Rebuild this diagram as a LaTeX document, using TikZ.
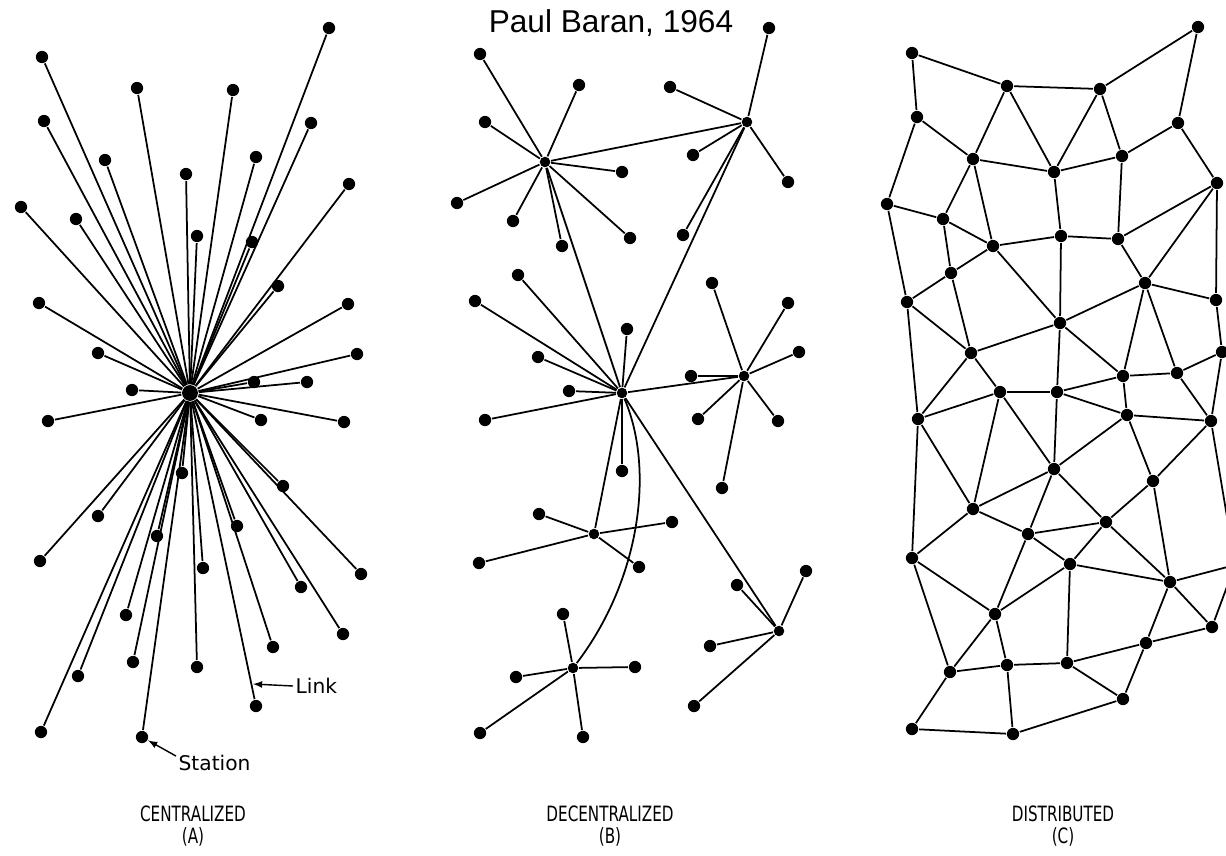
\documentclass[tikz,border=0pt]{standalone}
\usepackage{fontspec}
\newfontfamily\titlefont{Liberation Sans}
\newfontfamily\letterfont[FakeStretch=0.72]{DejaVu Sans}
\newfontfamily\tagfont{DejaVu Sans}
\usepackage{tikz}
\usetikzlibrary{arrows}

\begin{document}
\begin{tikzpicture}[x=0.02cm,y=-0.02cm,line width=1pt,
			station/.style={circle,fill=black,draw=none,inner sep=0pt,
				minimum size=7pt},
			hub/.style={station,minimum size=6pt},
			caption/.style={font=\letterfont\fontsize{12}{13}\selectfont,
				align=center},
			tag/.style={font=\tagfont\fontsize{11.5}{12}\selectfont,
				inner sep=1pt}]
			
			\useasboundingbox (0,0) rectangle (1226,855);
			\clip (0,0) rectangle (1226,855);
			
			\node[font=\titlefont\fontsize{18}{20}\selectfont] (title) at (611,23) {Paul Baran, 1964};
			
			% centralized
			\node[hub,minimum size=9pt] (ca) at (190,393) {};
			\foreach \x/\y [count=\i] in {42/57,329/28,137/88,233/90,44/121,311/123,
				105/160,256/157,186/174,349/184,21/207,76/219,197/236,252/242,278/286,
				39/303,348/304,98/353,357/354,254/382,307/382,132/390,48/421,261/420,
				344/422,182/473,283/486,98/516,237/526,157/536,40/561,203/568,361/574,
				301/587,126/615,343/634,273/647,133/662,197/667,78/676,256/706,41/732,
				142/737}{
				\node[station] (a\i) at (\x,\y) {};
				\draw (ca) -- (a\i);
			}
			
			\node[tag,anchor=west] (linktag) at (293,686) {Link};
			\coordinate (linkpt) at (253,684);
			\draw[-latex,line width=0.8pt] (linktag.west) -- (linkpt);
			\node[tag,anchor=west] (stationtag) at (176,763) {Station};
			\draw[-latex,line width=0.8pt] ([yshift=-2pt]stationtag.north west) -- (a43);
			
			% decentralized
			\node[hub] (b1) at (545,162) {};
			\node[hub] (b2) at (747,122) {};
			\node[hub] (b3) at (622,393) {};
			\node[hub] (b4) at (744,376) {};
			\node[hub] (b5) at (594,534) {};
			\node[hub] (b6) at (573,668) {};
			\node[hub] (b7) at (779,631) {};
			
			\foreach \x/\y [count=\i] in {480/54,579/85,485/122,622/172,457/203,
				513/221,562/246,630/238}{
				\node[station] (b1s\i) at (\x,\y) {};
				\draw (b1) -- (b1s\i);
			}
			\foreach \x/\y [count=\i] in {769/28,670/87,693/155,788/182,683/235}{
				\node[station] (b2s\i) at (\x,\y) {};
				\draw (b2) -- (b2s\i);
			}
			\foreach \x/\y [count=\i] in {518/275,475/301,627/329,538/357,569/391,
				485/420,622/471}{
				\node[station] (b3s\i) at (\x,\y) {};
				\draw (b3) -- (b3s\i);
			}
			\foreach \x/\y [count=\i] in {712/283,788/303,799/352,691/376,698/419,
				778/421,722/488}{
				\node[station] (b4s\i) at (\x,\y) {};
				\draw (b4) -- (b4s\i);
			}
			\foreach \x/\y [count=\i] in {539/514,672/522,479/563,639/567}{
				\node[station] (b5s\i) at (\x,\y) {};
				\draw (b5) -- (b5s\i);
			}
			\foreach \x/\y [count=\i] in {563/614,635/667,516/677,480/733,583/737}{
				\node[station] (b6s\i) at (\x,\y) {};
				\draw (b6) -- (b6s\i);
			}
			\foreach \x/\y [count=\i] in {737/585,806/571,710/646,694/706}{
				\node[station] (b7s\i) at (\x,\y) {};
				\draw (b7) -- (b7s\i);
			}
			
			\path
			(b1) edge (b2)
			(b1) edge (b3)
			(b2) edge (b3)
			(b3) edge (b4)
			(b3) edge (b5)
			(b3) edge (b7);
			\draw (b3) .. controls (655,470) and (640,580) .. (b6);
			
			% distributed
			\foreach \x/\y [count=\i] in {912/53,1007/86,1100/89,1198/27,917/117,
				1178/123,973/159,1054/172,1122/156,1217/183,887/204,943/219,993/246,
				1061/236,1118/239,951/273,907/302,1060/323,1145/283,1216/300,971/353,
				1222/352,1123/376,1177/373,1000/392,1057/392,918/419,1127/415,1211/421,
				1054/469,1153/481,973/509,1106/522,1028/534,912/558,1070/564,1170/582,
				995/614,1212/627,1146/643,950/672,1007/665,1067/663,1123/699,912/729,
				1013/734}{
				\node[station] (c\i) at (\x,\y) {};
			}
			\coordinate (cx) at (1235,565);
			
			\foreach \s/\t in {1/2,1/5,2/3,3/4,4/6,2/7,2/8,3/8,3/9,5/7,5/11,7/8,8/9,
				9/6,6/10,9/15,8/14,7/12,7/13,11/12,11/17,12/16,12/13,13/14,14/15,15/10,
				13/16,13/18,14/18,15/19,10/19,10/20,16/17,18/19,19/20,19/23,19/24,20/22,
				22/24,17/21,16/21,21/18,18/26,18/23,23/24,23/26,23/28,21/25,21/27,17/27,
				25/26,25/27,26/28,28/29,24/29,22/29,25/30,26/30,28/30,25/32,27/32,28/31,
				29/31,30/32,27/35,30/34,30/33,31/33,31/37,32/35,32/34,34/33,34/36,34/38,
				33/36,33/37,36/37,37/39,35/38,35/41,36/38,36/43,38/41,38/42,37/40,40/39,
				40/43,40/44,43/44,41/42,42/43,41/45,42/46,45/46,46/44}{
				\draw (c\s) -- (c\t);
			}
			\path
			(c29) edge (cx)
			(c37) edge (cx)
			(c39) edge (cx);
			
			% captions
			\node[caption] (capa) at (193,826) {CENTRALIZED\\(A)};
			\node[caption] (capb) at (610,826) {DECENTRALIZED\\(B)};
			\node[caption] (capc) at (1063,826) {DISTRIBUTED\\(C)};
			
		\end{tikzpicture}
\end{document}
